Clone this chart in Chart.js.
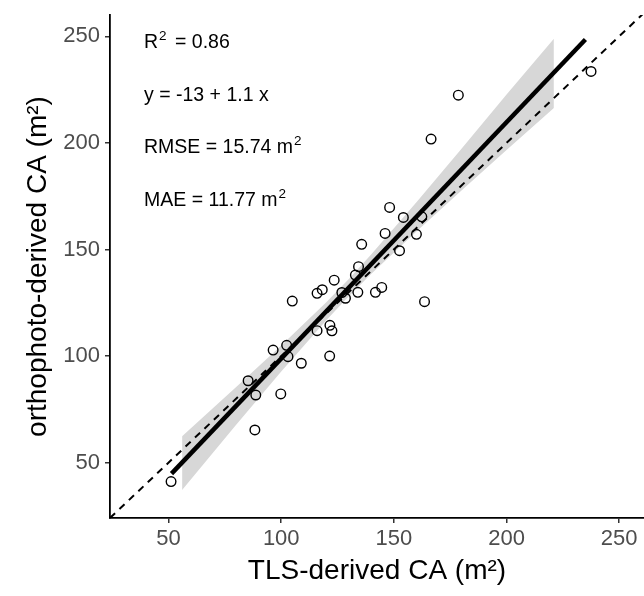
<!DOCTYPE html>
<html>
<head>
<meta charset="utf-8">
<script src="https://cdn.jsdelivr.net/npm/chart.js@4"></script>
<style>
  html, body { margin: 0; padding: 0; background: #fff; }
  #wrap { width: 644px; height: 596px; }
</style>
</head>
<body>
<div id="wrap"><canvas id="scatter" width="644" height="596"></canvas></div>
<script>
const tlsCA   = [51.1, 88.3, 85.3, 88.7, 99.8, 96.4, 102.4, 103.0, 108.9, 121.5,
                 104.9, 115.9, 121.6, 122.5, 115.9, 118.2, 123.5, 126.9, 128.5, 134.0,
                 132.9, 134.3, 135.7, 141.8, 144.6, 146.1, 148.1, 152.5, 154.2, 160.0,
                 162.4, 163.6, 166.5, 178.6, 237.5];
const orthoCA = [41.1, 65.3, 88.4, 81.7, 82.2, 102.8, 105.0, 99.7, 96.6, 100.0,
                 125.8, 111.9, 114.4, 111.8, 129.4, 131.1, 135.6, 129.8, 127.1, 129.9,
                 138.0, 141.9, 152.4, 129.9, 132.2, 157.5, 169.7, 149.4, 165.0, 157.1,
                 165.3, 125.5, 201.8, 222.4, 233.5];

// fitted line ends and confidence band
const fitX      = [51.3, 235];
const fitY      = [44.8, 248.5];
const bandX     = [56, 80, 100, 120, 130, 140, 160, 180, 200, 221];
const bandLower = [37.1, 67.7, 92.7, 116.8, 128.1, 138.6, 158.4, 177.7, 196.7, 216.4];
const bandUpper = [62.4, 85.5, 104.9, 125.2, 136.1, 147.8, 172.2, 197.3, 222.7, 248.8];

// 1:1 reference line
const refLine = [24, 261];

const xTicks = [50, 100, 150, 200, 250];
const yTicks = [50, 100, 150, 200, 250];

const stats = [
  { pre: 'R', sup: '2', post: ' = 0.86' },
  { pre: 'y = -13 + 1.1 x', sup: '', post: '' },
  { pre: 'RMSE = 15.74 m', sup: '2', post: '' },
  { pre: 'MAE = 11.77 m', sup: '2', post: '' }
];

const FONT = "'Liberation Sans', Arial, Helvetica, sans-serif";

const statsText = {
  id: 'statsText',
  afterDatasetsDraw(chart) {
    const { ctx, chartArea } = chart;
    ctx.save();
    ctx.fillStyle = '#000';
    ctx.textBaseline = 'alphabetic';
    const x0 = chartArea.left + 34;
    stats.forEach((s, i) => {
      const y = 48 + i * 52.5;
      ctx.font = '19.5px ' + FONT;
      ctx.fillText(s.pre, x0, y);
      let x = x0 + ctx.measureText(s.pre).width;
      if (s.sup) {
        ctx.font = '13.5px ' + FONT;
        ctx.fillText(s.sup, x + 1, y - 8);
        x += ctx.measureText(s.sup).width + 2;
      }
      if (s.post) {
        ctx.font = '19.5px ' + FONT;
        ctx.fillText(s.post, x + 2, y);
      }
    });
    ctx.restore();
  }
};

const ctx = document.getElementById('scatter').getContext('2d');

new Chart(ctx, {
  type: 'scatter',
  data: {
    datasets: [
      {
        label: 'band-lower',
        type: 'line',
        data: bandX.map((x, i) => ({ x, y: bandLower[i] })),
        borderWidth: 0,
        pointRadius: 0,
        fill: false,
        order: 5
      },
      {
        label: 'band-upper',
        type: 'line',
        data: bandX.map((x, i) => ({ x, y: bandUpper[i] })),
        borderWidth: 0,
        pointRadius: 0,
        backgroundColor: '#d7d7d7',
        fill: '-1',
        order: 4
      },
      {
        label: '1:1',
        type: 'line',
        data: refLine.map(v => ({ x: v, y: v })),
        borderColor: '#000',
        borderWidth: 2,
        borderDash: [7, 6],
        pointRadius: 0,
        fill: false,
        order: 3
      },
      {
        label: 'trees',
        data: tlsCA.map((x, i) => ({ x, y: orthoCA[i] })),
        pointStyle: 'circle',
        pointRadius: 4.8,
        pointBorderWidth: 1.4,
        borderColor: '#000',
        backgroundColor: 'rgba(0,0,0,0)',
        order: 2
      },
      {
        label: 'fit',
        type: 'line',
        data: fitX.map((x, i) => ({ x, y: fitY[i] })),
        borderColor: '#000',
        borderWidth: 4.5,
        pointRadius: 0,
        fill: false,
        order: 1
      }
    ]
  },
  options: {
    responsive: false,
    animation: false,
    events: [],
    layout: { autoPadding: false, padding: { top: 15, right: 0, left: 0, bottom: 0 } },
    plugins: {
      legend: { display: false },
      tooltip: { enabled: false }
    },
    scales: {
      x: {
        type: 'linear',
        min: 24,
        max: 261,
        afterBuildTicks: s => { s.ticks = xTicks.map(v => ({ value: v })); },
        afterFit: s => { s.height = 78; s.paddingLeft = 0; s.paddingRight = 0; },
        grid: { drawOnChartArea: false, drawTicks: true, tickLength: 5, color: '#333', lineWidth: 1.5 },
        border: { display: true, color: '#000', width: 1.8 },
        ticks: { color: '#4d4d4d', padding: 3, font: { family: FONT, size: 22 } },
        title: {
          display: true,
          text: 'TLS-derived CA (m²)',
          color: '#000',
          font: { family: FONT, size: 28 },
          padding: { top: 0, bottom: 8 }
        }
      },
      y: {
        type: 'linear',
        min: 24,
        max: 260,
        afterBuildTicks: s => { s.ticks = yTicks.map(v => ({ value: v })); },
        afterFit: s => { s.width = 110; s.paddingTop = 0; s.paddingBottom = 0; },
        grid: { drawOnChartArea: false, drawTicks: true, tickLength: 5, color: '#333', lineWidth: 1.5 },
        border: { display: true, color: '#000', width: 1.8 },
        ticks: { color: '#4d4d4d', padding: 5, font: { family: FONT, size: 22 } },
        title: {
          display: true,
          text: 'orthophoto-derived CA (m²)',
          color: '#000',
          font: { family: FONT, size: 28 },
          padding: { top: 21, bottom: 0 }
        }
      }
    }
  },
  plugins: [statsText]
});
</script>
</body>
</html>
